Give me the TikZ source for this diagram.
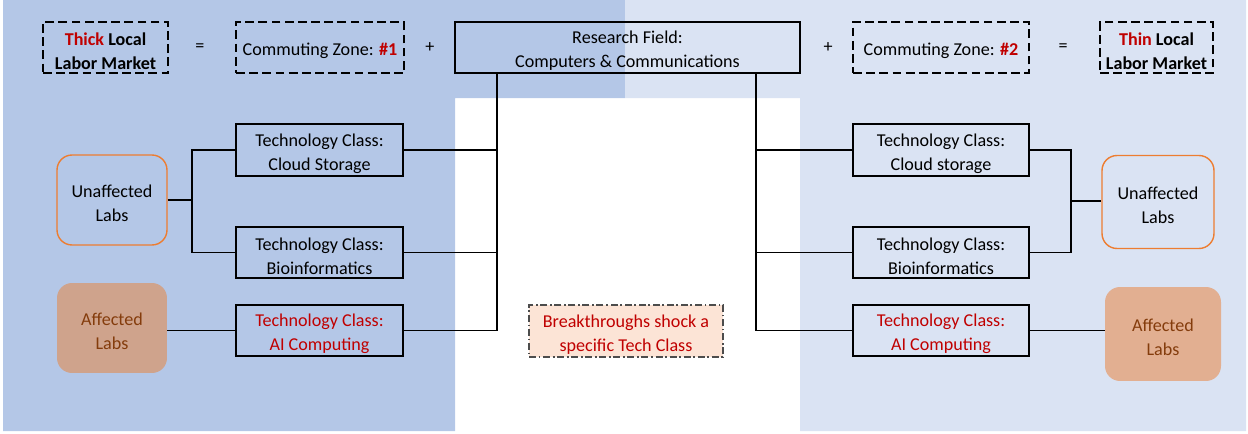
\documentclass[tikz,border=0pt]{standalone}
\usepackage{fontspec}
\setmainfont{Carlito}
\usetikzlibrary{calc}
\definecolor{darkbg}{HTML}{B4C7E7}
\definecolor{lightbg}{HTML}{DAE3F3}
\definecolor{shockred}{HTML}{C00000}
\definecolor{labborder}{HTML}{ED7D31}
\definecolor{labbrown}{HTML}{843C0C}
\definecolor{labfilll}{HTML}{CFA38C}
\definecolor{labfillr}{HTML}{E2AF91}
\definecolor{notefill}{HTML}{FCE4D6}

\newcommand{\lowstrut}{\rule{0pt}{11pt}}

\tikzset{
  txt/.style={font=\fontsize{10.3}{13.6}\selectfont, align=center, inner sep=0pt},
  techbox/.style={txt, draw, line width=1.2pt, minimum width=3.34cm, minimum height=1.03cm},
  dashbox/.style={txt, draw, line width=1.2pt, dash pattern=on 5pt off 2.5pt, minimum height=1.02cm},
  labbox/.style={txt, rounded corners=0.3cm, minimum width=2.2cm, minimum height=1.8cm},
  wire/.style={line width=1.1pt}
}

\begin{document}
\begin{tikzpicture}[x=0.02cm, y=-0.02cm]
\useasboundingbox (0,0) rectangle (1248,433);

% background panels
\fill[darkbg] (3,0) -- (625,0) -- (625,98) -- (455,98) -- (455,431) -- (3,431) -- cycle;
\fill[lightbg] (625,0) -- (1246,0) -- (1246,431) -- (800,431) -- (800,98) -- (625,98) -- cycle;

% top row
\node[dashbox, minimum width=2.5cm] (thick) at (105.5,47.5) {\lowstrut\textbf{\color{shockred}Thick} \textbf{Local}\\\textbf{Labor Market}};
\node[txt] (eql) at (200,48) {=};
\node[dashbox, minimum width=3.36cm] (czone1) at (320,47.5) {\lowstrut Commuting Zone: \textbf{\color{shockred}\#1}};
\node[txt] (plusl) at (430,48) {+};
\node[techbox, minimum width=6.9cm, minimum height=1.02cm] (field) at (627.5,47.5) {\lowstrut Research Field:\\Computers \& Communications};
\node[txt] (plusr) at (828,48) {+};
\node[dashbox, minimum width=3.52cm] (czone2) at (941,47.5) {\lowstrut Commuting Zone: \textbf{\color{shockred}\#2}};
\node[txt] (eqr) at (1063,48) {=};
\node[dashbox, minimum width=2.26cm] (thin) at (1156.5,47.5) {\lowstrut\textbf{\color{shockred}Thin} \textbf{Local}\\\textbf{Labor Market}};

% left market
\node[techbox] (cloudl) at (319.5,150) {\lowstrut Technology Class:\\Cloud Storage};
\node[techbox] (biol) at (319.5,252.5) {\lowstrut Technology Class:\\Bioinformatics};
\node[techbox, text=shockred] (ail) at (319.5,330.5) {\lowstrut Technology Class:\\AI Computing};
\node[labbox, draw=labborder, line width=0.8pt] (unafl) at (112,200) {\lowstrut Unaffected\\Labs};
\node[labbox, fill=labfilll, text=labbrown] (affl) at (112,328) {\lowstrut Affected\\Labs};

% right market
\node[techbox, minimum width=3.52cm] (cloudr) at (941,150) {\lowstrut Technology Class:\\Cloud storage};
\node[techbox, minimum width=3.52cm] (bior) at (941,252.5) {\lowstrut Technology Class:\\Bioinformatics};
\node[techbox, minimum width=3.52cm, text=shockred] (air) at (941,330.5) {\lowstrut Technology Class:\\AI Computing};
\node[labbox, draw=labborder, line width=0.8pt, minimum width=2.24cm, minimum height=1.86cm] (unafr) at (1158,202) {\lowstrut Unaffected\\Labs};
\node[labbox, fill=labfillr, text=labbrown, minimum width=2.32cm, minimum height=1.88cm] (affr) at (1163,334) {\lowstrut Affected\\Labs};

% shock note
\node[txt, draw=black!70, fill=notefill, text=shockred, line width=0.8pt, dash pattern=on 4pt off 1.5pt on 1pt off 1.5pt, minimum width=3.88cm, minimum height=1.04cm] (shock) at (626,331) {\lowstrut Breakthroughs shock a\\specific Tech Class};

% wiring, left
\coordinate (jointl) at (192,200);
\draw[wire] (unafl.east) -- (jointl);
\draw[wire] (cloudl.west) -| (jointl) |- (biol.west);
\draw[wire] (affl.east |- ail.west) -- (ail.west);
\coordinate (trunkl) at ($(field.south west)+(43,0)$);
\draw[wire] (trunkl) |- (ail.east);
\draw[wire] (cloudl.east) -- (cloudl.east -| trunkl);
\draw[wire] (biol.east) -- (biol.east -| trunkl);

% wiring, right
\coordinate (trunkr) at ($(field.south east)+(-45,0)$);
\draw[wire] (trunkr) |- (air.west);
\draw[wire] (cloudr.west) -- (cloudr.west -| trunkr);
\draw[wire] (bior.west) -- (bior.west -| trunkr);
\coordinate (jointr) at (1071,201);
\draw[wire] (cloudr.east) -| (jointr) |- (bior.east);
\draw[wire] (jointr) -- (jointr -| unafr.west);
\draw[wire] (air.east) -- (air.east -| affr.west);

\end{tikzpicture}
\end{document}
